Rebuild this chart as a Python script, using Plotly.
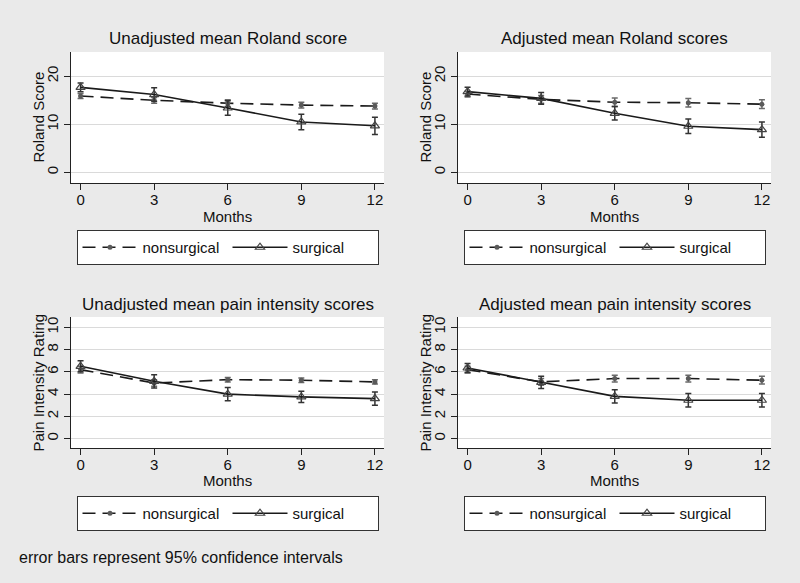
import plotly.graph_objects as go

W, H = 800, 583

months = [0, 3, 6, 9, 12]
month_ticks = [0, 3, 6, 9, 12]
roland_ticks = [0, 10, 20]
pain_ticks = [0, 2, 4, 6, 8, 10]

series_names = ["nonsurgical", "surgical"]

panel_titles = [
    "Unadjusted mean Roland score",
    "Adjusted mean Roland scores",
    "Unadjusted mean pain intensity scores",
    "Adjusted mean pain intensity scores",
]
y_titles = ["Roland Score", "Roland Score", "Pain Intensity Rating", "Pain Intensity Rating"]
x_title = "Months"
footer = "error bars represent 95% confidence intervals"

# Unadjusted Roland
roland_unadj_nonsurg = [15.9, 15.0, 14.4, 14.0, 13.8]
roland_unadj_nonsurg_ci = [0.5, 0.6, 0.7, 0.6, 0.6]
roland_unadj_surg = [17.7, 16.2, 13.4, 10.5, 9.7]
roland_unadj_surg_ci = [0.9, 1.4, 1.5, 1.6, 1.8]
# Adjusted Roland
roland_adj_nonsurg = [16.3, 15.2, 14.6, 14.5, 14.2]
roland_adj_nonsurg_ci = [0.6, 0.8, 0.9, 0.9, 0.9]
roland_adj_surg = [16.8, 15.4, 12.3, 9.6, 8.9]
roland_adj_surg_ci = [0.9, 1.2, 1.4, 1.5, 1.6]
# Unadjusted pain
pain_unadj_nonsurg = [6.2, 5.0, 5.3, 5.25, 5.1]
pain_unadj_nonsurg_ci = [0.3, 0.3, 0.2, 0.2, 0.2]
pain_unadj_surg = [6.5, 5.15, 4.0, 3.75, 3.6]
pain_unadj_surg_ci = [0.5, 0.6, 0.6, 0.5, 0.6]
# Adjusted pain
pain_adj_nonsurg = [6.2, 5.1, 5.4, 5.4, 5.25]
pain_adj_nonsurg_ci = [0.3, 0.3, 0.3, 0.3, 0.35]
pain_adj_surg = [6.35, 5.05, 3.8, 3.45, 3.45]
pain_adj_surg_ci = [0.4, 0.55, 0.6, 0.6, 0.6]

panels = [
    (roland_unadj_nonsurg, roland_unadj_nonsurg_ci, roland_unadj_surg, roland_unadj_surg_ci),
    (roland_adj_nonsurg, roland_adj_nonsurg_ci, roland_adj_surg, roland_adj_surg_ci),
    (pain_unadj_nonsurg, pain_unadj_nonsurg_ci, pain_unadj_surg, pain_unadj_surg_ci),
    (pain_adj_nonsurg, pain_adj_nonsurg_ci, pain_adj_surg, pain_adj_surg_ci),
]

FONT = "Arial, Liberation Sans, sans-serif"
BG = "#eaeaea"

# plot-area boxes in pixels (left, right, top, bottom)
boxes = [
    (71, 384, 52, 183),
    (458, 771, 52, 183),
    (71, 384, 317, 448),
    (458, 771, 317, 448),
]
y_ranges = [[-2.2, 25.05], [-2.2, 25.05], [-0.84, 10.93], [-0.84, 10.93]]
y_tickvals = [roland_ticks, roland_ticks, pain_ticks, pain_ticks]
x_range = [-0.39, 12.37]
legend_tops = [230, 230, 496, 496]

fig = go.Figure()

for i, (ns, ns_ci, s, s_ci) in enumerate(panels):
    k = "" if i == 0 else str(i + 1)
    leg = "legend" if i == 0 else "legend" + str(i + 1)
    fig.add_trace(go.Scatter(
        x=months, y=ns, name=series_names[0], mode="lines+markers",
        xaxis="x" + k, yaxis="y" + k, legend=leg,
        line=dict(color="#1a1a1a", width=1.6, dash="13px,7px"),
        marker=dict(symbol="circle", size=5, color="#5a5a5a"),
        error_y=dict(type="data", array=ns_ci, visible=True, color="#6a6a6a", thickness=1.5, width=3),
    ))
    fig.add_trace(go.Scatter(
        x=months, y=s, name=series_names[1], mode="lines+markers",
        xaxis="x" + k, yaxis="y" + k, legend=leg,
        line=dict(color="#1a1a1a", width=1.6),
        marker=dict(symbol="triangle-up-open", size=8, color="#444444", line=dict(width=1.2)),
        error_y=dict(type="data", array=s_ci, visible=True, color="#333333", thickness=1.5, width=3),
    ))

layout = dict(
    width=W, height=H, margin=dict(l=0, r=0, t=0, b=0),
    paper_bgcolor=BG, plot_bgcolor="white",
    font=dict(family=FONT, size=15, color="#111111"),
    annotations=[],
)

for i, (l, r, t, b) in enumerate(boxes):
    k = "" if i == 0 else str(i + 1)
    xd = [l / W, r / W]
    yd = [1 - b / H, 1 - t / H]
    layout["xaxis" + k] = dict(
        domain=xd, anchor="y" + k, range=x_range, tickvals=month_ticks,
        showgrid=False, zeroline=False, showline=True, linecolor="#222222", linewidth=1,
        ticks="outside", ticklen=6, tickcolor="#222222", ticklabelstandoff=-3,
        tickfont=dict(size=15, color="#111111"),
    )
    layout["yaxis" + k] = dict(
        domain=yd, anchor="x" + k, range=y_ranges[i], tickvals=y_tickvals[i],
        showgrid=True, gridcolor="#dadada", gridwidth=1, zeroline=False,
        showline=True, linecolor="#222222", linewidth=1,
        ticks="outside", ticklen=6, tickcolor="#222222", tickangle=-90,
        tickfont=dict(size=15, color="#111111"),
    )
    cx = (l + r) / 2
    layout["annotations"].append(dict(
        text=panel_titles[i], x=cx / W, y=1 - (t - 13) / H, xref="paper", yref="paper",
        xanchor="center", yanchor="middle", showarrow=False, font=dict(size=17, color="#111111"),
    ))
    layout["annotations"].append(dict(
        text=x_title, x=cx / W, y=1 - (b + 33) / H, xref="paper", yref="paper",
        xanchor="center", yanchor="middle", showarrow=False, font=dict(size=15, color="#111111"),
    ))
    layout["annotations"].append(dict(
        text=y_titles[i], x=(l - 33) / W, y=1 - ((t + b) / 2) / H, xref="paper", yref="paper",
        xanchor="center", yanchor="middle", textangle=-90, showarrow=False,
        font=dict(size=15, color="#111111"),
    ))
    leg = "legend" if i == 0 else "legend" + str(i + 1)
    layout[leg] = dict(
        x=cx / W, y=1 - legend_tops[i] / H, xanchor="center", yanchor="top",
        orientation="h", bgcolor="white", bordercolor="#333333", borderwidth=1,
        font=dict(size=15, color="#111111"), itemwidth=55,
        entrywidth=80, entrywidthmode="pixels",
    )

layout["annotations"].append(dict(
    text=footer, x=17 / W, y=1 - 557 / H, xref="paper", yref="paper",
    xanchor="left", yanchor="middle", showarrow=False, font=dict(size=16, color="#111111"),
))

fig.update_layout(**layout)
fig.write_html(
    "out.html",
    config={"displayModeBar": False},
    post_script="document.body.style.margin='0';document.body.style.background='#eaeaea';",
)
